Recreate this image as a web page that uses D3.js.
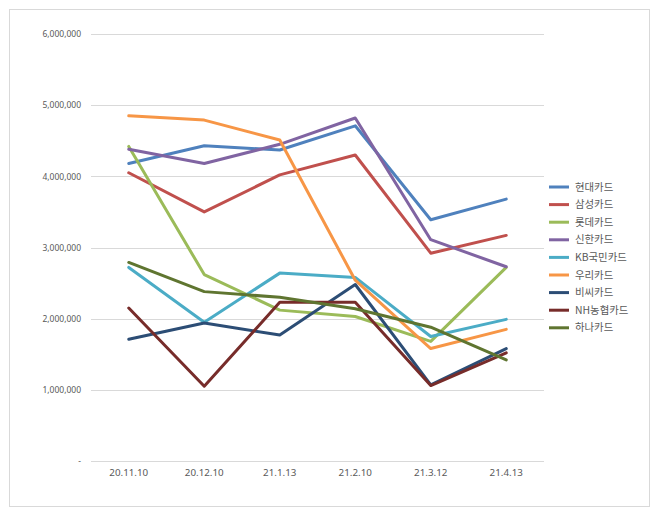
<!DOCTYPE html>
<html><head><meta charset="utf-8">
<script src="https://cdn.jsdelivr.net/npm/d3@7"></script>
<style>body{margin:0;background:#fff;}svg{display:block;}</style>
</head><body><svg id="c" width="660" height="515"></svg>
<script>
const categories = ["20.11.10","20.12.10","21.1.13","21.2.10","21.3.12","21.4.13"];
const seriesNames = ["현대카드","삼성카드","롯데카드","신한카드","KB국민카드","우리카드","비씨카드","NH농협카드","하나카드"];
const hyundai = [4180000,4430000,4370000,4710000,3390000,3680000];
const samsung = [4050000,3500000,4020000,4300000,2920000,3170000];
const lotte   = [4420000,2620000,2120000,2030000,1680000,2720000];
const shinhan = [4380000,4180000,4450000,4820000,3110000,2730000];
const kb      = [2720000,1950000,2640000,2580000,1750000,1990000];
const woori   = [4850000,4790000,4510000,2540000,1580000,1850000];
const bc      = [1710000,1940000,1770000,2480000,1070000,1580000];
const nh      = [2150000,1050000,2230000,2230000,1060000,1520000];
const hana    = [2790000,2380000,2300000,2140000,1880000,1420000];
const seriesValues = [hyundai,samsung,lotte,shinhan,kb,woori,bc,nh,hana];
const yTicks = [0,1000000,2000000,3000000,4000000,5000000,6000000];
const colors = ["#4F81BD","#C0504D","#9BBB59","#8064A2","#4BACC6","#F79646","#2C4D75","#772C2A","#5F7530"];

const svg = d3.select("#c");
svg.append("rect").attr("x",9.5).attr("y",9.5).attr("width",640).attr("height",497)
  .attr("fill","#fff").attr("stroke","#D9D9D9");

const x = d3.scaleBand().domain(categories).range([91,544]);
const y = d3.scaleLinear().domain([0,6000000]).range([461,34]);

// gridlines
svg.append("g").selectAll("line").data(yTicks).join("line")
  .attr("x1",91).attr("x2",544)
  .attr("y1",d=>Math.round(y(d))+0.5).attr("y2",d=>Math.round(y(d))+0.5)
  .attr("stroke","#D9D9D9").attr("stroke-width",1);

// y axis labels
const yAxis = d3.axisLeft(y).tickValues(yTicks).tickSize(0).tickPadding(0)
  .tickFormat(d=> d===0 ? "-" : d3.format(",")(d));
const gy = svg.append("g").attr("transform","translate(81,0)").call(yAxis);
gy.select(".domain").remove();
gy.selectAll("text").attr("fill","#595959").style("font-family","Noto Sans, sans-serif").style("font-size","8.5px");

// x axis labels
const xAxis = d3.axisBottom(x).tickSize(0).tickPadding(0);
const gx = svg.append("g").attr("transform","translate(0,469)").call(xAxis);
gx.select(".domain").remove();
gx.selectAll("text").attr("fill","#595959").style("font-family","Noto Sans, sans-serif").style("font-size","9.8px");

// lines
const line = d3.line().x((d,i)=>x(categories[i])+x.bandwidth()/2).y(d=>y(d));
svg.append("g").selectAll("path").data(seriesValues).join("path")
  .attr("d",d=>line(d)).attr("fill","none")
  .attr("stroke",(d,i)=>colors[i]).attr("stroke-width",3)
  .attr("stroke-linejoin","round").attr("stroke-linecap","round");

// legend
const leg = svg.append("g").selectAll("g").data(seriesNames).join("g")
  .attr("transform",(d,i)=>`translate(549,${187+i*17.6})`);
leg.append("line").attr("x1",0).attr("x2",20).attr("y1",0).attr("y2",0)
  .attr("stroke",(d,i)=>colors[i]).attr("stroke-width",3);
leg.append("text").attr("x",26).attr("y",0).attr("dy","0.35em")
  .attr("fill","#595959").style("font-family","Noto Sans CJK KR, sans-serif").style("font-size","10.4px")
  .text(d=>d);
</script></body></html>
